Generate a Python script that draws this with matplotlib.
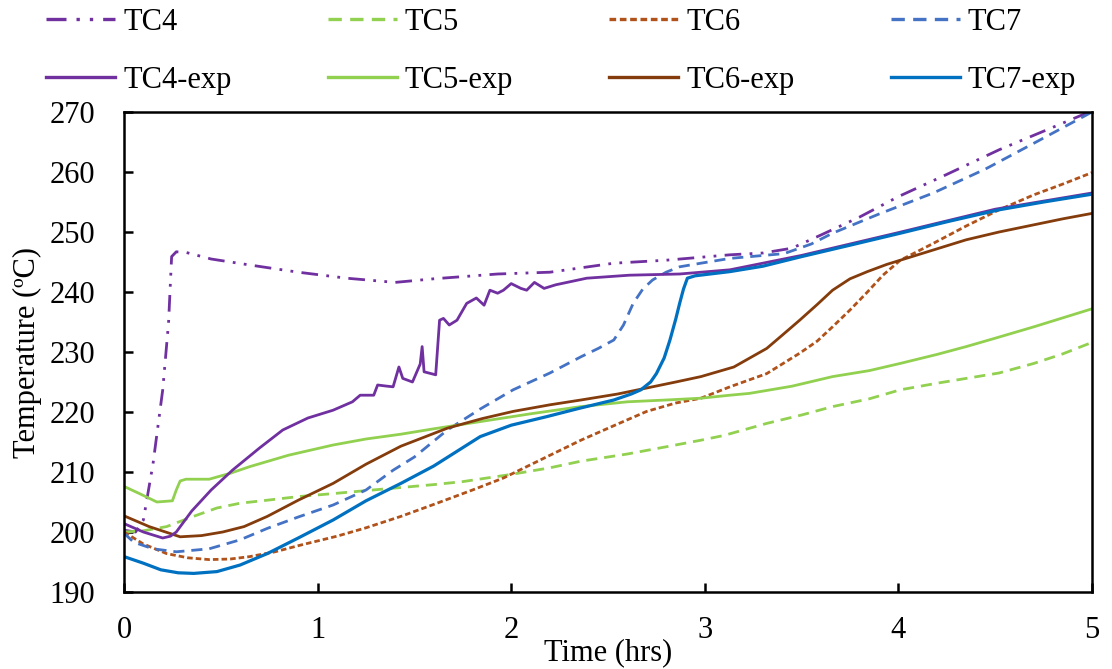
import matplotlib
matplotlib.use("Agg")
import matplotlib.pyplot as plt

plt.rcParams['font.family'] = ['Liberation Serif', 'DejaVu Serif']

# ---- simulated (model) temperatures ----
tc4_t = [0, 0.06, 0.1, 0.15, 0.2, 0.23, 0.246, 0.27, 0.32, 0.45, 0.65, 0.9, 1.15, 1.4, 1.6,
         1.93, 2.2, 2.53, 2.8, 3.13, 3.3, 3.45, 3.6, 3.8, 4.0, 4.25, 4.52, 4.75, 5.0]
tc4_T = [200.3, 200, 202, 211.4, 223.7, 234.8, 245.9, 246.7, 246.6, 245.5, 244.5, 243.3, 242.3,
         241.6, 242.2, 243, 243.3, 244.8, 245.3, 246.2, 246.5, 247.3, 249.5, 252.5, 255.9,
         259.6, 263.7, 266.8, 270.2]

tc5_t = [0, 0.1, 0.22, 0.35, 0.48, 0.6, 0.74, 0.9, 1.08, 1.25, 1.39, 1.6, 1.75, 2.0, 2.2, 2.36,
         2.6, 2.8, 2.98, 3.1, 3.32, 3.5, 3.66, 3.85, 4.01, 4.2, 4.35, 4.52, 4.7, 4.85, 5.0]
tc5_T = [200, 200.2, 200.9, 202.5, 204, 204.8, 205.3, 205.9, 206.4, 206.9, 207.3, 207.9, 208.4,
         209.6, 210.7, 211.8, 213, 214.2, 215.3, 216.1, 218.1, 219.5, 220.9, 222.2, 223.7,
         224.8, 225.6, 226.5, 228.1, 229.7, 231.6]

tc6_t = [0, 0.1, 0.22, 0.33, 0.44, 0.55, 0.65, 0.78, 0.91, 1.1, 1.25, 1.43, 1.6, 1.8, 1.96,
         2.15, 2.36, 2.55, 2.7, 2.85, 2.98, 3.13, 3.32, 3.49, 3.58, 3.66, 3.75, 3.84, 3.92,
         4.01, 4.18, 4.35, 4.52, 4.7, 4.85, 5.0]
tc6_T = [200, 198, 196.4, 195.7, 195.4, 195.5, 195.9, 196.7, 197.8, 199.3, 200.7, 202.6, 204.6,
         207, 209, 212, 215.3, 218, 220.1, 221.5, 222.3, 224.2, 226.4, 229.8, 231.8, 234.2,
         237, 240, 242.8, 245.3, 248.1, 251, 253.7, 256.2, 258, 259.9]

tc7_t = [0, 0.05, 0.15, 0.27, 0.44, 0.6, 0.74, 0.9, 1.08, 1.25, 1.39, 1.5, 1.67, 1.84, 2.01,
         2.2, 2.36, 2.45, 2.53, 2.58, 2.63, 2.68, 2.73, 2.8, 2.87, 2.98, 3.13, 3.41, 3.55,
         3.66, 3.9, 4.18, 4.45, 4.7, 5.0]
tc7_T = [199.8, 198.3, 197.2, 196.7, 197.2, 198.7, 200.6, 202.5, 204.5, 207, 210.3, 212.5, 217,
         220.5, 223.7, 226.5, 229.2, 230.6, 232, 234.5, 238.1, 240.5, 242, 243.3, 244.2,
         244.8, 245.6, 246.4, 248, 249.8, 253, 256.5, 260.5, 264.8, 270]

# ---- measured temperatures ----
tc4e_t = [0, 0.1, 0.2, 0.24, 0.27, 0.35, 0.45, 0.56, 0.7, 0.82, 0.95, 1.08, 1.18, 1.22, 1.29,
          1.31, 1.36, 1.39, 1.42, 1.44, 1.49, 1.53, 1.54, 1.55, 1.61, 1.63, 1.65, 1.68, 1.72,
          1.77, 1.82, 1.86, 1.89, 1.93, 1.96, 2.0, 2.05, 2.08, 2.12, 2.17, 2.23, 2.39, 2.61,
          2.87, 3.13, 3.5, 4.0, 4.5, 5.0]
tc4e_T = [201.4, 200, 199, 199.3, 200, 203.5, 207, 210.3, 214, 217, 219, 220.3, 221.7, 222.8,
          222.8, 224.5, 224.3, 224.2, 227.5, 225.6, 225, 228, 230.9, 226.7, 226.2, 235.3,
          235.6, 234.5, 235.3, 238.1, 239, 237.8, 240.3, 239.8, 240.3, 241.4, 240.6, 240.3,
          241.6, 240.6, 241.2, 242.3, 242.8, 243, 243.7, 246.1, 249.9, 253.8, 256.5]

tc5e_t = [0, 0.08, 0.17, 0.25, 0.27, 0.29, 0.32, 0.44, 0.55, 0.65, 0.85, 1.08, 1.25, 1.43, 1.6,
          1.84, 2.1, 2.36, 2.6, 2.8, 2.98, 3.13, 3.23, 3.45, 3.66, 3.85, 4.01, 4.2, 4.35, 4.5,
          4.7, 4.85, 5.0]
tc5e_T = [207.6, 206.4, 205, 205.2, 207, 208.5, 208.8, 208.8, 209.8, 210.9, 212.8, 214.5, 215.5,
          216.3, 217.2, 218.4, 219.7, 220.9, 221.7, 222, 222.3, 222.8, 223.1, 224.3, 225.9,
          226.9, 228.1, 229.6, 230.9, 232.3, 234.2, 235.7, 237.2]

tc6e_t = [0, 0.13, 0.29, 0.4, 0.51, 0.62, 0.74, 0.9, 1.08, 1.25, 1.43, 1.67, 1.85, 2.01, 2.2,
          2.36, 2.55, 2.7, 2.85, 2.98, 3.15, 3.32, 3.4, 3.49, 3.58, 3.66, 3.75, 3.84, 3.94,
          4.04, 4.2, 4.35, 4.52, 4.7, 4.85, 5.0]
tc6e_T = [202.7, 200.9, 199.2, 199.4, 200, 200.9, 202.6, 205.3, 208.1, 211.3, 214.3, 217.3,
          218.9, 220.1, 221.2, 222, 223, 224, 225, 225.9, 227.5, 230.6, 232.8, 235.3, 237.9,
          240.3, 242.2, 243.4, 244.6, 245.6, 247.2, 248.7, 250, 251.2, 252.2, 253.1]

tc7e_t = [0, 0.1, 0.19, 0.28, 0.36, 0.48, 0.6, 0.74, 0.9, 1.08, 1.25, 1.43, 1.6, 1.84, 2.0,
          2.18, 2.35, 2.53, 2.62, 2.67, 2.72, 2.75, 2.79, 2.82, 2.85, 2.87, 2.89, 2.91, 2.95,
          3.13, 3.3, 3.5, 3.75, 4.01, 4.25, 4.52, 4.75, 5.0]
tc7e_T = [195.9, 194.8, 193.7, 193.2, 193.1, 193.4, 194.5, 196.4, 199, 202, 205.2, 208.1, 211,
          215.9, 217.8, 219.2, 220.6, 222, 223, 223.7, 225, 226.4, 229, 232, 235.5, 238.1,
          240.5, 242.3, 242.7, 243.4, 244.3, 245.9, 247.8, 249.8, 251.7, 253.7, 255, 256.3]

x_ticks = [0, 1, 2, 3, 4, 5]
y_ticks = [190, 200, 210, 220, 230, 240, 250, 260, 270]

PURPLE = '#7030A0'
GREEN = '#92D050'
BROWN_M = '#B0521A'
BROWN_E = '#843C0C'
BLUE_M = '#4472C4'
BLUE_E = '#0070C0'

LW = 2.0
FS = 22

fig = plt.figure(figsize=(11.12, 6.69), dpi=100)
ax = fig.add_axes([124 / 1112, 77 / 669, 968 / 1112, 480 / 669])

h_tc4, = ax.plot(tc4_t, tc4_T, color=PURPLE, lw=LW, dashes=(6, 3, 1, 3, 1, 3), label='TC4')
h_tc5, = ax.plot(tc5_t, tc5_T, color=GREEN, lw=LW, dashes=(4, 2.5), label='TC5')
h_tc6, = ax.plot(tc6_t, tc6_T, color=BROWN_M, lw=LW, dashes=(2, 1.1), label='TC6')
h_tc7, = ax.plot(tc7_t, tc7_T, color=BLUE_M, lw=LW, dashes=(4, 2.5), label='TC7')
h_tc5e, = ax.plot(tc5e_t, tc5e_T, color=GREEN, lw=LW, label='TC5-exp')
h_tc6e, = ax.plot(tc6e_t, tc6e_T, color=BROWN_E, lw=LW, label='TC6-exp')
h_tc4e, = ax.plot(tc4e_t, tc4e_T, color=PURPLE, lw=LW, label='TC4-exp')
h_tc7e, = ax.plot(tc7e_t, tc7e_T, color=BLUE_E, lw=LW + 0.3, label='TC7-exp')

ax.set_xlim(0, 5)
ax.set_ylim(190, 270)
ax.set_xticks(x_ticks)
ax.set_yticks(y_ticks)
ax.tick_params(axis='both', direction='in', length=6.5, width=1.8, labelsize=FS)
ax.tick_params(axis='x', pad=17)
ax.tick_params(axis='y', pad=21)
for s in ax.spines.values():
    s.set_linewidth(1.8)
    s.set_color('black')

ax.set_xlabel('Time (hrs)', fontsize=FS, va='baseline')
ax.xaxis.set_label_coords(0.5, -(660 - 592) / 480)
ax.set_ylabel('Temperature (ºC)', fontsize=FS, va='bottom')
ax.yaxis.set_label_coords(-(124 - 42) / 968, 0.5)

handles = [h_tc4, h_tc4e, h_tc5, h_tc5e, h_tc6, h_tc6e, h_tc7, h_tc7e]
leg = fig.legend(handles=handles, labels=[h.get_label() for h in handles], ncol=4,
                 loc='upper left', bbox_to_anchor=(46 / 1112, 1 - 8 / 669),
                 frameon=False, fontsize=FS, handlelength=2.26, handletextpad=0.26,
                 columnspacing=3.15, labelspacing=0.95, borderpad=0, borderaxespad=0)
for line in leg.get_lines():
    line.set_linewidth(2.4)

fig.savefig('out.png', dpi=100)
